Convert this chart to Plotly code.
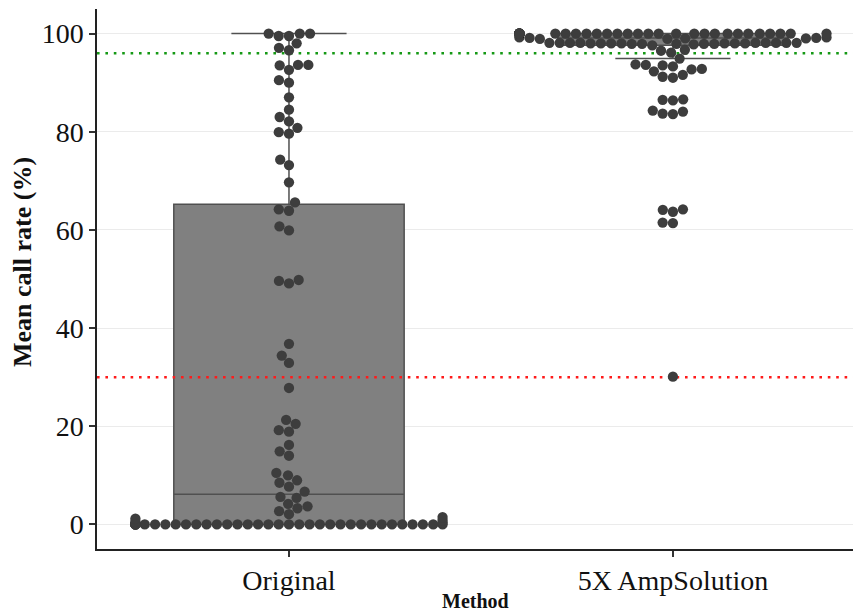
import numpy as np
import plotly.graph_objects as go

# ---------------- data ----------------
categories = ["Original", "5X AmpSolution"]

original_zero = [0.0] * 36
original_low = [0.2, 0.4, 0.6, 0.9, 1.2, 1.5]
original_rest = [2.1, 2.7, 3.3, 3.7, 4.2, 5.4, 5.6, 6.7, 7.7, 8.5, 9.0, 10.0, 10.5,
                 14.0, 14.9, 16.2, 18.9, 19.2, 20.5, 21.3, 27.8,
                 32.9, 34.4, 36.8, 49.1, 49.6, 49.8, 59.9, 60.7, 63.9, 64.2,
                 65.6, 69.7, 73.2, 74.3, 79.6, 79.9, 80.8, 82.1, 83.0, 84.5, 87.0,
                 90.0, 90.5, 92.6, 93.5, 93.6, 93.6, 96.6, 97.1, 98.0, 99.5, 99.5,
                 100.0, 100.0, 100.0]

amp_tail = [30.1, 61.4, 61.5, 63.7, 64.1, 64.2, 83.6, 83.7, 84.1, 84.3, 86.4, 86.5,
            86.6, 91.0, 91.2, 91.6, 92.3, 92.7, 92.8, 93.3, 93.5, 93.6, 93.7, 94.9,
            96.1, 96.5, 96.7]
amp_low_row = [97.6, 97.8, 97.9, 97.9, 97.9, 97.9, 97.9, 98.0, 98.0, 98.0, 98.0,
               98.0, 98.0, 98.0, 98.1, 98.1, 98.1, 98.1, 98.1, 98.1, 98.1, 98.1, 98.1]
amp_mid = [98.9, 98.9, 99.0, 99.0, 99.1, 99.1, 99.2, 99.2]
amp_full = [100.0] * 51

threshold_high = 96
threshold_low = 30

# ---------------- layout constants ----------------
W, H = 853, 613
M_L, M_R, M_T, M_B = 97, 0, 9, 64
X_RANGE = [-0.5, 1.469]
Y_RANGE = [-5, 105]
PT_SIZE = 10.3
SWARM_HALF = 0.4  # corral (gutter) half-width in x data units

ppu_x = (W - M_L - M_R) / (X_RANGE[1] - X_RANGE[0])
ppu_y = (H - M_T - M_B) / (Y_RANGE[1] - Y_RANGE[0])


def swarm_offsets(values, d, ppux, ppuy, half):
    vals = np.asarray(values, dtype=float)
    order = np.argsort(vals, kind="stable")
    placed = []
    offs = np.zeros(len(vals))
    max_px = half * ppux
    for i in order:
        y = vals[i] * ppuy
        cands = [0.0]
        for px, py in placed:
            dy = abs(py - y)
            if dy < d:
                dx = np.sqrt(d * d - dy * dy)
                cands += [px + dx, px - dx]
        cands = sorted(set(cands), key=lambda c: (round(abs(c), 6), c))
        chosen = cands[-1]
        for c in cands:
            if all((c - px) ** 2 + (y - py) ** 2 >= d * d - 1e-6 for px, py in placed):
                chosen = c
                break
        chosen = float(np.clip(chosen, -max_px, max_px))
        placed.append((chosen, y))
        offs[i] = chosen
    return offs / ppux


def box_stats(values):
    v = np.sort(np.asarray(values, dtype=float))
    q1, med, q3 = np.percentile(v, [25, 50, 75])
    iqr = q3 - q1
    lo = v[v >= q1 - 1.5 * iqr].min()
    hi = v[v <= q3 + 1.5 * iqr].max()
    return q1, med, q3, lo, hi


groups = [original_zero + original_low + original_rest,
          amp_tail + amp_low_row + amp_mid + amp_full]

BOX_FILL = "#808080"
BOX_LINE = "#505050"
PT_COLOR = "#3d3d3d"

fig = go.Figure()

for gi, vals in enumerate(groups):
    q1, med, q3, lo, hi = box_stats(vals)
    fig.add_trace(go.Box(
        x=[gi], q1=[q1], median=[med], q3=[q3], lowerfence=[lo], upperfence=[hi],
        width=0.6, whiskerwidth=0.5, fillcolor=BOX_FILL,
        line=dict(color=BOX_LINE, width=1.5), boxpoints=False,
        hoverinfo="skip", showlegend=False,
    ))

for yv, col in [(threshold_high, "#159915"), (threshold_low, "#ff1a1a")]:
    fig.add_trace(go.Scatter(
        x=X_RANGE, y=[yv, yv], mode="lines",
        line=dict(color=col, width=2.6, dash="2.6px,5.8px"),
        hoverinfo="skip", showlegend=False,
    ))

for gi, vals in enumerate(groups):
    offs = swarm_offsets(vals, PT_SIZE, ppu_x, ppu_y, SWARM_HALF)
    fig.add_trace(go.Scatter(
        x=gi + offs, y=vals, mode="markers",
        marker=dict(color=PT_COLOR, size=PT_SIZE, line=dict(width=0)),
        hoverinfo="skip", showlegend=False,
    ))

FONT = "Liberation Serif, Times New Roman, serif"
PLOT_H = H - M_T - M_B

fig.update_layout(
    width=W, height=H,
    margin=dict(l=M_L, r=M_R, t=M_T, b=M_B),
    paper_bgcolor="white", plot_bgcolor="white",
    font=dict(family=FONT, color="#111111"),
    showlegend=False,
    xaxis=dict(
        range=X_RANGE, tickvals=[0, 1], ticktext=categories,
        showgrid=False, zeroline=False,
        showline=True, linecolor="#222222", linewidth=1.5,
        ticks="outside", ticklen=6, tickwidth=1.5, tickcolor="#333333",
        tickfont=dict(family=FONT, size=28, color="#111111"),
    ),
    yaxis=dict(
        range=Y_RANGE, tickvals=[0, 20, 40, 60, 80, 100],
        showgrid=True, gridcolor="#ebebeb", gridwidth=1, zeroline=False,
        showline=True, linecolor="#222222", linewidth=1.5,
        ticks="outside", ticklen=6, tickwidth=1.5, tickcolor="#333333",
        tickfont=dict(family=FONT, size=28, color="#111111"),
    ),
    annotations=[
        dict(text="<b>Mean call rate (%)</b>", xref="paper", yref="paper",
             x=(22 - M_L) / (W - M_L - M_R), y=(H - M_B - 262) / PLOT_H, textangle=-90,
             showarrow=False, xanchor="center", yanchor="middle",
             font=dict(family=FONT, size=26, color="#111111")),
        dict(text="<b>Method</b>", xref="paper", yref="paper",
             x=0.5, y=-(601 - (H - M_B)) / PLOT_H,
             showarrow=False, xanchor="center", yanchor="middle",
             font=dict(family=FONT, size=20, color="#111111")),
    ],
)

fig.write_html("out.html")
